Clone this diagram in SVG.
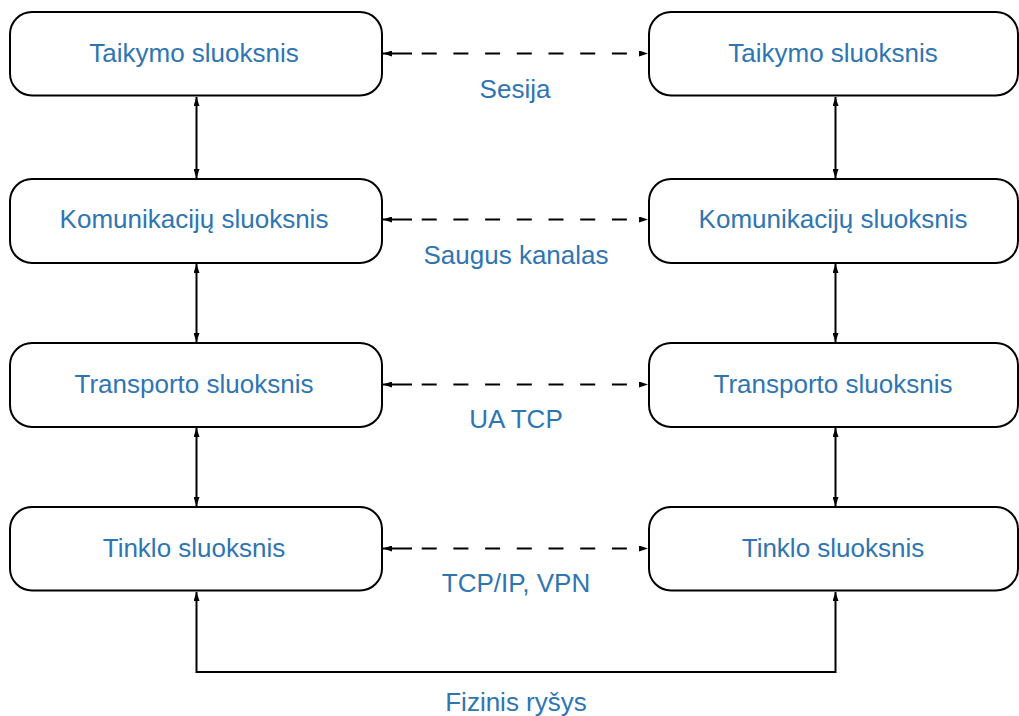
<svg xmlns="http://www.w3.org/2000/svg" width="1019" height="716" viewBox="0 0 1019 716">
  <style>
    .box { fill: #ffffff; stroke: #000000; stroke-width: 2; }
    .lbl { font-family: "Liberation Sans", Arial, sans-serif; font-size: 26px; fill: #2E75B2; text-anchor: middle; }
    .solid { fill: none; stroke: #000000; stroke-width: 2; }
    .dash { fill: none; stroke: #000000; stroke-width: 2; stroke-dasharray: 29 9.7 15 16.7 15 16.7 15 16.7 15 16.7 15 16.7 15 16.7 15 40; }
  </style>
  <defs>
    <marker id="head" viewBox="0 0 9 6" refX="9" refY="3" markerWidth="9" markerHeight="6" markerUnits="userSpaceOnUse" orient="auto-start-reverse">
      <path d="M0,0 L9,3 L0,6 Z" fill="#000000"/>
    </marker>
  </defs>

  <rect width="1019" height="716" fill="#ffffff"/>

  <!-- connectors -->
  <g id="connectors">
    <!-- vertical links inside each stack -->
    <line class="solid" x1="196.5" y1="97" x2="196.5" y2="178" marker-start="url(#head)" marker-end="url(#head)"/>
    <line class="solid" x1="196.5" y1="264" x2="196.5" y2="342" marker-start="url(#head)" marker-end="url(#head)"/>
    <line class="solid" x1="196.5" y1="428" x2="196.5" y2="506" marker-start="url(#head)" marker-end="url(#head)"/>
    <line class="solid" x1="835.5" y1="97" x2="835.5" y2="178" marker-start="url(#head)" marker-end="url(#head)"/>
    <line class="solid" x1="835.5" y1="264" x2="835.5" y2="342" marker-start="url(#head)" marker-end="url(#head)"/>
    <line class="solid" x1="835.5" y1="428" x2="835.5" y2="506" marker-start="url(#head)" marker-end="url(#head)"/>
    <!-- peer-to-peer dashed links -->
    <line class="dash" x1="383" y1="53.5" x2="648" y2="53.5" marker-start="url(#head)" marker-end="url(#head)"/>
    <line class="dash" x1="383" y1="219.5" x2="648" y2="219.5" marker-start="url(#head)" marker-end="url(#head)"/>
    <line class="dash" x1="383" y1="384.5" x2="648" y2="384.5" marker-start="url(#head)" marker-end="url(#head)"/>
    <line class="dash" x1="383" y1="548.5" x2="648" y2="548.5" marker-start="url(#head)" marker-end="url(#head)"/>
    <!-- physical link -->
    <polyline class="solid" points="196.5,592 196.5,672 835.5,672 835.5,592" marker-start="url(#head)" marker-end="url(#head)"/>
  </g>

  <!-- left stack -->
  <g id="left-app"><rect class="box" x="10" y="12" width="372" height="83.5" rx="22"/><text class="lbl" x="194" y="62">Taikymo sluoksnis</text></g>
  <g id="left-comm"><rect class="box" x="10" y="179" width="372" height="84" rx="22"/><text class="lbl" x="194" y="228">Komunikacijų sluoksnis</text></g>
  <g id="left-transport"><rect class="box" x="10" y="343" width="372" height="84" rx="22"/><text class="lbl" x="194" y="393">Transporto sluoksnis</text></g>
  <g id="left-network"><rect class="box" x="10" y="507" width="372" height="83.5" rx="22"/><text class="lbl" x="194" y="557">Tinklo sluoksnis</text></g>

  <!-- right stack -->
  <g id="right-app"><rect class="box" x="649" y="12" width="369" height="83.5" rx="22"/><text class="lbl" x="833" y="62">Taikymo sluoksnis</text></g>
  <g id="right-comm"><rect class="box" x="649" y="179" width="369" height="84" rx="22"/><text class="lbl" x="833" y="228">Komunikacijų sluoksnis</text></g>
  <g id="right-transport"><rect class="box" x="649" y="343" width="369" height="84" rx="22"/><text class="lbl" x="833" y="393">Transporto sluoksnis</text></g>
  <g id="right-network"><rect class="box" x="649" y="507" width="369" height="83.5" rx="22"/><text class="lbl" x="833" y="557">Tinklo sluoksnis</text></g>

  <!-- link labels -->
  <g id="labels">
    <text class="lbl" x="515" y="98">Sesija</text>
    <text class="lbl" x="516" y="264">Saugus kanalas</text>
    <text class="lbl" x="516" y="428">UA TCP</text>
    <text class="lbl" x="516" y="592">TCP/IP, VPN</text>
    <text class="lbl" x="516" y="711">Fizinis ryšys</text>
  </g>
</svg>
